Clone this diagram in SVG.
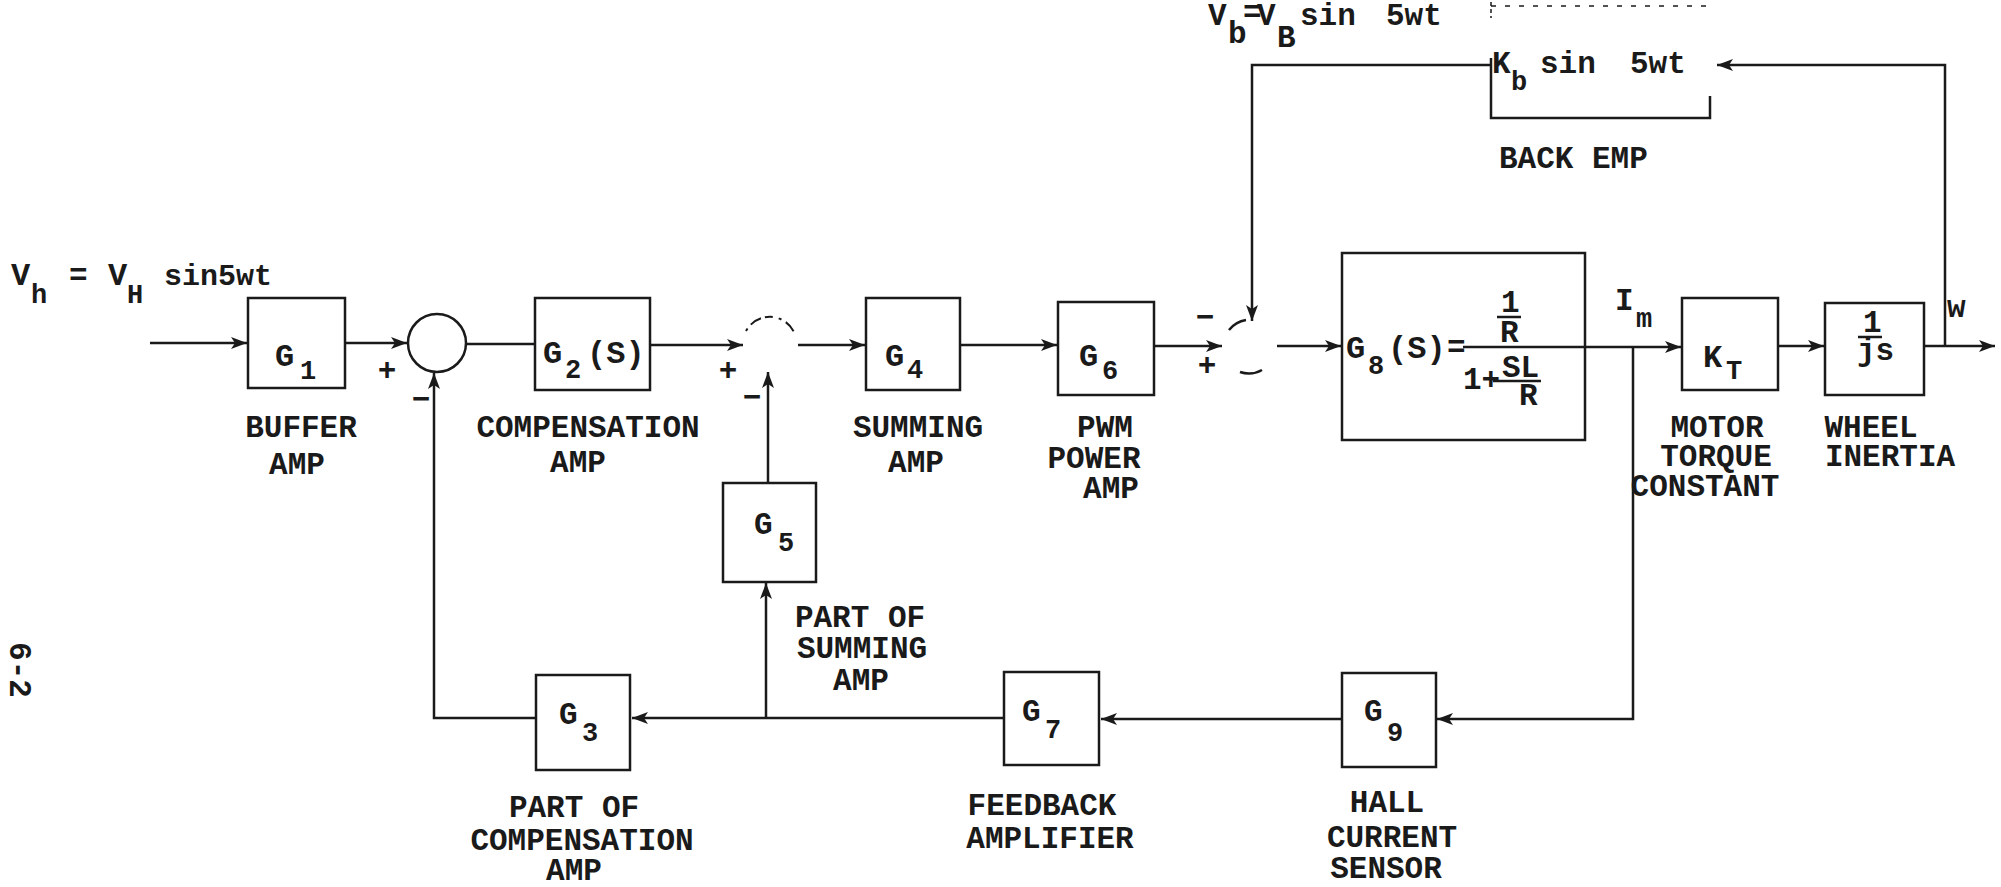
<svg xmlns="http://www.w3.org/2000/svg" width="2001" height="887" viewBox="0 0 2001 887">
<defs>
<style>
.bx{fill:none;stroke:#1a1a1a;stroke-width:2.5}
.ln{fill:none;stroke:#1a1a1a;stroke-width:2.5}
.fa{fill:none;stroke:#1a1a1a;stroke-width:2;stroke-dasharray:3 5 12 4 8 6}
.t{font-family:"Liberation Mono","DejaVu Sans Mono",monospace;font-weight:bold;fill:#1a1a1a;font-size:31px}
.g{font-size:32px}
.s{font-size:27px}
.l{text-anchor:middle}
</style>
<marker id="ah" viewBox="0 0 16 12" refX="16" refY="6" markerWidth="16" markerHeight="12" markerUnits="userSpaceOnUse" orient="auto">
<path d="M0,0 L16,6 L0,12 L4,6 z" fill="#1a1a1a"/>
</marker>
</defs>
<rect width="2001" height="887" fill="#ffffff"/>

<!-- input signal text -->
<text class="t" y="285"><tspan x="11" font-size="32">V</tspan><tspan x="31" y="303" font-size="27">h</tspan><tspan x="69" y="285">=</tspan><tspan x="108" font-size="32">V</tspan><tspan x="127" y="303" font-size="27">H</tspan><tspan x="164" y="285" font-size="30">sin5wt</tspan></text>

<!-- back emf voltage text -->
<text class="t" x="1208" y="25">V</text>
<text class="t" x="1228" y="43" font-size="24">b</text>
<text class="t" x="1243" y="22" font-size="21">=</text>
<text class="t" x="1257" y="25">V</text>
<text class="t" x="1277" y="47" font-size="24">B</text>
<text class="t" x="1300" y="25">sin</text>
<text class="t" x="1386" y="25">5wt</text>

<g id="connectors">
<path class="ln" d="M150,343 H247" marker-end="url(#ah)"/>
<path class="ln" d="M345,343 H407" marker-end="url(#ah)"/>
<path class="ln" d="M466,344 H535"/>
<path class="ln" d="M650,345 H743" marker-end="url(#ah)"/>
<path class="ln" d="M798,345 H865" marker-end="url(#ah)"/>
<path class="ln" d="M960,345 H1057" marker-end="url(#ah)"/>
<path class="ln" d="M1154,346 H1222" marker-end="url(#ah)"/>
<path class="ln" d="M1277,346 H1341" marker-end="url(#ah)"/>
<path class="ln" d="M1585,347 H1681" marker-end="url(#ah)"/>
<path class="ln" d="M1778,346 H1824" marker-end="url(#ah)"/>
<path class="ln" d="M1924,346 H1995" marker-end="url(#ah)"/>
<path class="ln" d="M1945,346 V65 H1717" marker-end="url(#ah)"/>
<path class="ln" d="M1491,65 H1252 V321" marker-end="url(#ah)"/>
<path class="ln" d="M1633,347 V719 H1437" marker-end="url(#ah)"/>
<path class="ln" d="M1342,719 H1101" marker-end="url(#ah)"/>
<path class="ln" d="M1004,718 H632" marker-end="url(#ah)"/>
<path class="ln" d="M766,718 V583" marker-end="url(#ah)"/>
<path class="ln" d="M768,483 V372" marker-end="url(#ah)"/>
<path class="ln" d="M536,718 H434 V373" marker-end="url(#ah)"/>
</g>

<g id="sum1">
<circle class="ln" cx="437" cy="343" r="29"/>
<text class="t l" x="387" y="380" font-size="28">+</text>
<text class="t l" x="421" y="409">−</text>
</g>
<g id="sum2">
<path class="fa" d="M746,331 A27,27 0 0 1 794,332"/>
<text class="t l" x="728" y="380" font-size="28">+</text>
<text class="t l" x="752" y="407">−</text>
</g>
<g id="sum3">
<path class="ln" d="M1229,330 A27,27 0 0 1 1246,320"/>
<path class="ln" d="M1240,372 A27,27 0 0 0 1262,370"/>
<text class="t l" x="1205" y="327">−</text>
<text class="t l" x="1207" y="375" font-size="28">+</text>
</g>

<g id="G1">
<rect class="bx" x="248" y="298" width="97" height="90"/>
<text class="t g" x="275" y="366">G</text><text class="t s" x="300" y="379">1</text>
<text class="t l" x="301" y="437">BUFFER</text>
<text class="t l" x="297" y="474">AMP</text>
</g>
<g id="G2">
<rect class="bx" x="535" y="298" width="115" height="92"/>
<text class="t g" x="543" y="363">G</text><text class="t s" x="565" y="378">2</text><text class="t g" x="587" y="363">(S)</text>
<text class="t l" x="588" y="437">COMPENSATION</text>
<text class="t l" x="578" y="472">AMP</text>
</g>
<g id="G4">
<rect class="bx" x="866" y="298" width="94" height="92"/>
<text class="t g" x="885" y="366">G</text><text class="t s" x="907" y="378">4</text>
<text class="t l" x="918" y="437">SUMMING</text>
<text class="t l" x="916" y="472">AMP</text>
</g>
<g id="G6">
<rect class="bx" x="1058" y="302" width="96" height="93"/>
<text class="t g" x="1079" y="366">G</text><text class="t s" x="1102" y="379">6</text>
<text class="t l" x="1105" y="437">PWM</text>
<text class="t l" x="1094" y="468">POWER</text>
<text class="t l" x="1111" y="498">AMP</text>
</g>
<g id="G8">
<rect class="bx" x="1342" y="253" width="243" height="187"/>
<text class="t g" x="1346" y="358">G</text><text class="t s" x="1368" y="374">8</text><text class="t g" x="1388" y="358">(S)</text><text class="t" x="1447" y="357" font-size="26">=</text>
<text class="t" x="1501" y="312" font-size="28">1</text>
<path class="ln" d="M1497,317 H1521"/>
<text class="t" x="1500" y="342" font-size="28">R</text>
<path class="ln" d="M1463,347 H1585"/>
<text class="t" x="1463" y="389" font-size="28">1+</text>
<text class="t" x="1502" y="377" font-size="28">SL</text>
<path class="ln" d="M1493,381 H1541"/>
<text class="t" x="1519" y="405" font-size="28">R</text>
<text class="t" x="1615" y="310">I</text><text class="t s" x="1636" y="327">m</text>
</g>
<g id="KT">
<rect class="bx" x="1682" y="298" width="96" height="92"/>
<text class="t g" x="1703" y="367">K</text><text class="t s" x="1726" y="379">T</text>
<text class="t l" x="1717" y="437">MOTOR</text>
<text class="t l" x="1716" y="466">TORQUE</text>
<text class="t l" x="1705" y="496">CONSTANT</text>
</g>
<g id="wheel">
<rect class="bx" x="1825" y="303" width="99" height="92"/>
<text class="t" x="1863" y="332" font-size="28">1</text>
<path class="ln" d="M1858,337 H1882"/>
<text class="t" x="1857" y="360" font-size="28">js</text>
<text class="t l" x="1871" y="437">WHEEL</text>
<text class="t l" x="1890" y="466">INERTIA</text>
<text class="t" x="1947" y="317" font-size="24">w</text>
</g>
<g id="backemf">
<path d="M1491,6 H1710" fill="none" stroke="#1a1a1a" stroke-width="1.5" stroke-dasharray="5 9"/>
<path d="M1491,2 V18" fill="none" stroke="#1a1a1a" stroke-width="1.5" stroke-dasharray="4 3"/>
<path class="ln" d="M1491,58 V118 H1710 V96"/>
<text class="t" x="1492" y="73">K</text><text class="t s" x="1511" y="90">b</text>
<text class="t" x="1540" y="73">sin</text><text class="t" x="1630" y="73">5wt</text>
<text class="t" x="1499" y="168">BACK EMP</text>
</g>
<g id="G3">
<rect class="bx" x="536" y="675" width="94" height="95"/>
<text class="t" x="559" y="724" font-size="28">G</text><text class="t s" x="582" y="741">3</text>
<text class="t l" x="574" y="817">PART OF</text>
<text class="t l" x="582" y="850">COMPENSATION</text>
<text class="t l" x="574" y="880">AMP</text>
</g>
<g id="G5">
<rect class="bx" x="723" y="483" width="93" height="99"/>
<text class="t" x="754" y="534" font-size="28">G</text><text class="t s" x="778" y="551">5</text>
<text class="t l" x="860" y="627">PART OF</text>
<text class="t l" x="862" y="658">SUMMING</text>
<text class="t l" x="861" y="690">AMP</text>
</g>
<g id="G7">
<rect class="bx" x="1004" y="672" width="95" height="93"/>
<text class="t" x="1022" y="721" font-size="28">G</text><text class="t s" x="1045" y="738">7</text>
<text class="t l" x="1042" y="815">FEEDBACK</text>
<text class="t l" x="1050" y="848">AMPLIFIER</text>
</g>
<g id="G9">
<rect class="bx" x="1342" y="673" width="94" height="94"/>
<text class="t" x="1364" y="721" font-size="28">G</text><text class="t s" x="1387" y="741">9</text>
<text class="t l" x="1387" y="812">HALL</text>
<text class="t l" x="1392" y="847">CURRENT</text>
<text class="t l" x="1386" y="878">SENSOR</text>
</g>
<text class="t l" transform="translate(10,670) rotate(90)">6-2</text>
</svg>
